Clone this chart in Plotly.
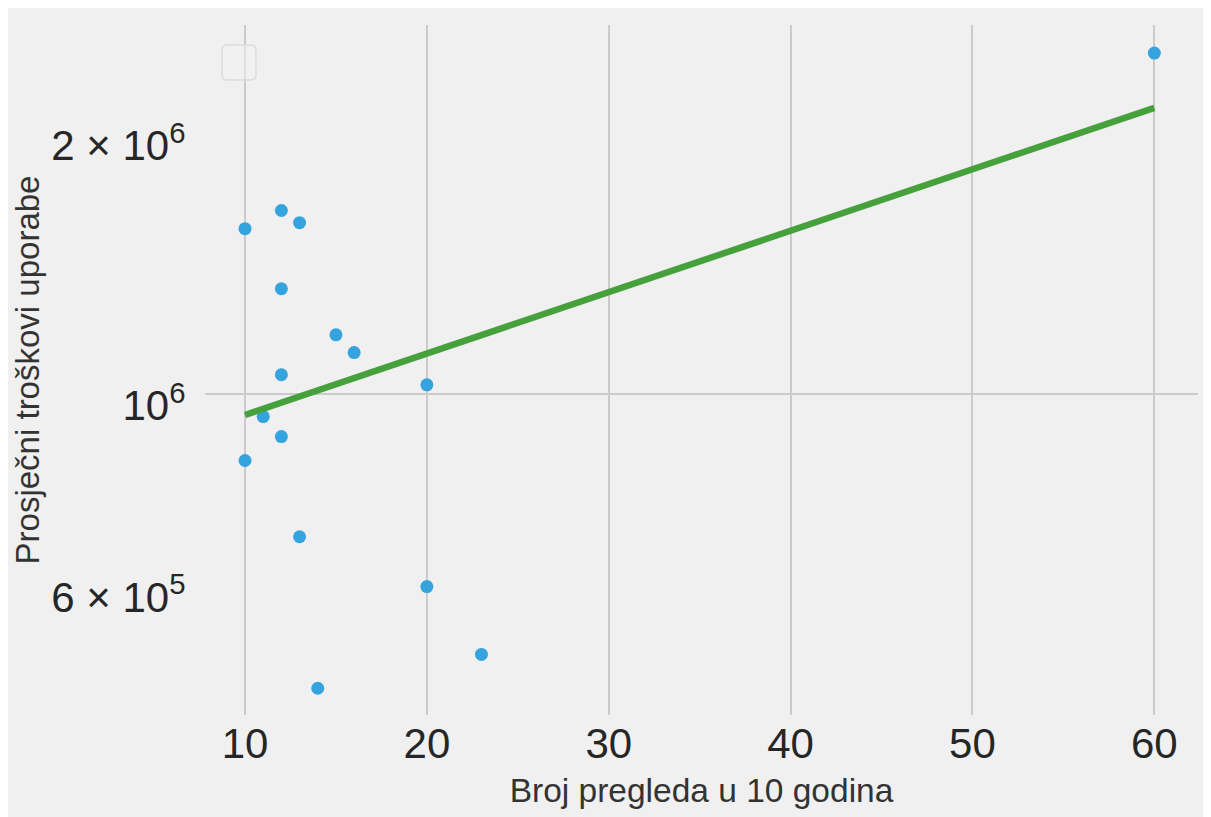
import plotly.graph_objects as go

# Data
pregledi = [10, 12, 13, 12, 15, 16, 12, 20, 11, 12, 10, 13, 20, 23, 14, 60]
troskovi = [1553000, 1630000, 1578000, 1323000, 1170000, 1116000, 1052000, 1024000,
            941000, 892000, 837000, 683000, 598000, 499000, 456000, 2480000]

trend_x = [10, 60]
trend_y = [945000, 2143000]

x_ticks = [10, 20, 30, 40, 50, 60]
y_major_ticks = [1000000]
y_major_labels = ["10<sup>6</sup>"]
y_minor_ticks = [600000, 2000000]
y_minor_labels = ["6 \u00d7 10<sup>5</sup>", "2 \u00d7 10<sup>6</sup>"]

BG = "#f0f0f0"
GRID = "#cbcbcb"
FONT = "Liberation Sans, Arial, sans-serif"
Y_RANGE = [5.628, 6.427]

fig = go.Figure()
fig.add_trace(go.Scatter(
    x=pregledi, y=troskovi, mode="markers",
    marker=dict(color="#35a3de", size=13, line=dict(width=0)),
    showlegend=False))
fig.add_trace(go.Scatter(
    x=trend_x, y=trend_y, mode="lines",
    line=dict(color="#46a13c", width=6.5),
    showlegend=False))
# invisible helper trace to carry the second (label-only) y axis
fig.add_trace(go.Scatter(x=[], y=[], yaxis="y2", showlegend=False))

tick_font = dict(size=42, color="#262626", family=FONT)

# empty legend frame with rounded corners (paper coordinates)
lx0, lx1 = 17 / 993, 51 / 993
ly0, ly1 = 1 - 55 / 690, 1 - 20 / 690
rx, ry = 5 / 993, 5 / 690
legend_path = (
    f"M {lx0 + rx} {ly1} L {lx1 - rx} {ly1} Q {lx1} {ly1} {lx1} {ly1 - ry} "
    f"L {lx1} {ly0 + ry} Q {lx1} {ly0} {lx1 - rx} {ly0} "
    f"L {lx0 + rx} {ly0} Q {lx0} {ly0} {lx0} {ly0 + ry} "
    f"L {lx0} {ly1 - ry} Q {lx0} {ly1} {lx0 + rx} {ly1} Z"
)

fig.update_layout(
    width=1203, height=809,
    paper_bgcolor=BG, plot_bgcolor=BG,
    margin=dict(l=197, r=13, t=17, b=102),
    font=dict(family=FONT, color="#222222"),
    showlegend=False,
    xaxis=dict(
        range=[7.8, 62.4], tickvals=x_ticks,
        showgrid=True, gridcolor=GRID, gridwidth=1.5, zeroline=False,
        showline=False, ticks="",
        tickfont=tick_font,
        title=dict(text="Broj pregleda u 10 godina", font=dict(size=33.5, color="#333333"), standoff=12),
    ),
    yaxis=dict(
        type="log", range=Y_RANGE,
        tickvals=y_major_ticks, ticktext=y_major_labels,
        showgrid=True, gridcolor=GRID, gridwidth=1.5, zeroline=False,
        showline=False, ticks="outside", ticklen=10, tickcolor="rgba(0,0,0,0)",
        tickfont=tick_font, ticklabelshift=12,
        title=dict(text="Prosječni troškovi uporabe", font=dict(size=33, color="#333333"), standoff=72),
    ),
    yaxis2=dict(
        type="log", range=Y_RANGE, overlaying="y", side="left",
        tickvals=y_minor_ticks, ticktext=y_minor_labels,
        showgrid=False, zeroline=False, showline=False,
        ticks="outside", ticklen=10, tickcolor="rgba(0,0,0,0)",
        tickfont=tick_font, ticklabelshift=12,
    ),
    shapes=[
        dict(type="path", xref="paper", yref="paper", path=legend_path,
             fillcolor="rgba(242,242,242,0.55)",
             line=dict(color="#dcdcdc", width=1.5), layer="above"),
    ],
)

fig.write_html("out.html")
